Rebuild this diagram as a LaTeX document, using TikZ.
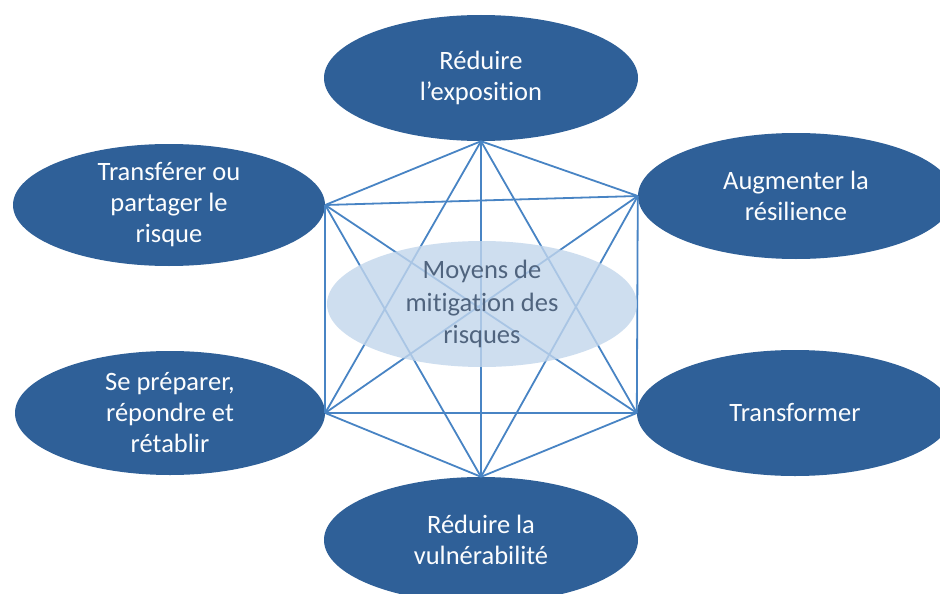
\documentclass[tikz,border=0pt]{standalone}
\usepackage{fontspec}
\setmainfont{Carlito}[Ligatures=NoCommon]
\usetikzlibrary{shapes.geometric}
\definecolor{darkblue}{RGB}{47,96,152}
\definecolor{edgeblue}{RGB}{72,132,196}
\definecolor{paleblue}{RGB}{194,214,236}
\definecolor{centertext}{RGB}{80,100,126}
\tikzset{
  outer/.style={ellipse, fill=darkblue, draw=none, inner sep=0pt, text=white!95!paleblue,
    align=center, font=\fontsize{26.5}{31}\selectfont},
  middle/.style={ellipse, fill=paleblue, fill opacity=0.8, text opacity=1, draw=none, inner sep=0pt,
    text=centertext, align=center, font=\fontsize{26.5}{32.5}\selectfont,
    minimum width=310pt, minimum height=126pt},
  link/.style={draw=edgeblue, line width=1.8pt}
}
\begin{document}
\begin{tikzpicture}[x=1pt,y=-1pt]
\useasboundingbox (0,0) rectangle (940,594);
\clip (0,0) rectangle (940,594);
\fill[white] (0,0) rectangle (940,594);
\node[outer, minimum width=314pt, minimum height=126pt] (top) at (481,78) {Réduire\\l’exposition};
\node[outer, minimum width=314pt, minimum height=126pt] (bot) at (481,540) {Réduire la\\vulnérabilité};
\node[outer, minimum width=312pt, minimum height=122pt] (lt) at (169,205) {Transférer ou\\partager le\\risque};
\node[outer, minimum width=316pt, minimum height=126pt] (rt) at (796,196) {Augmenter la\\résilience};
\node[outer, minimum width=310pt, minimum height=124pt] (lb) at (170,413) {Se préparer,\\répondre et\\rétablir};
\node[outer, minimum width=316pt, minimum height=126pt] (rb) at (795,413) {Transformer};
\foreach \a/\aa/\b/\bb in {top/south/bot/north, top/south/lt/east, top/south/rt/west,
    top/south/lb/east, top/south/rb/west,
    bot/north/lt/east, bot/north/rt/west, bot/north/lb/east, bot/north/rb/west,
    lt/east/rt/west, lt/east/lb/east, lt/east/rb/west,
    rt/west/lb/east, rt/west/rb/west, lb/east/rb/west}{
  \path[link] (\a.\aa) -- (\b.\bb);
}
\node[middle] (mid) at (482,304) {Moyens de\\mitigation des\\risques};
\end{tikzpicture}
\end{document}
